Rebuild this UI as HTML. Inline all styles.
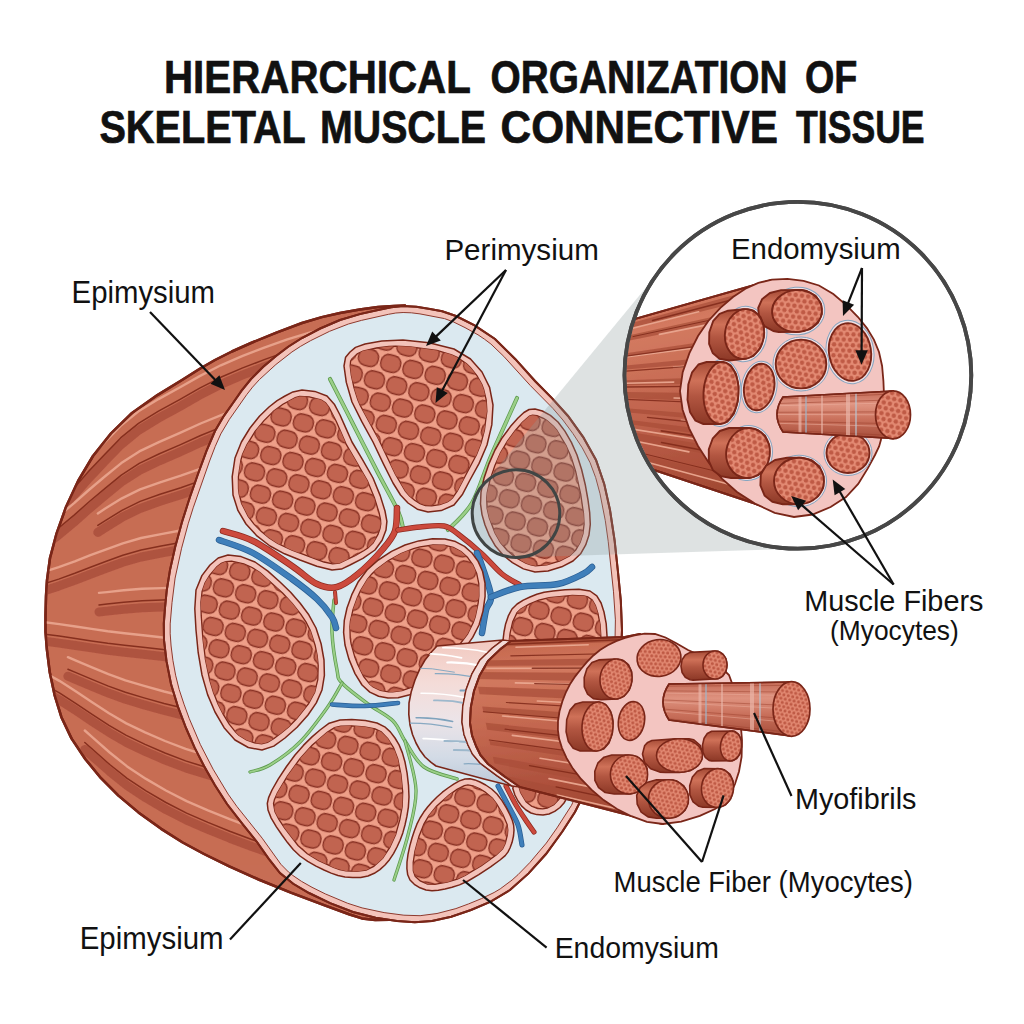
<!DOCTYPE html>
<html><head><meta charset="utf-8"><style>
html,body{margin:0;padding:0;background:#fff}
svg{display:block}
text{font-family:"Liberation Sans",sans-serif;fill:#111}
</style></head><body>
<svg width="1024" height="1024" viewBox="0 0 1024 1024">
<defs>
<path id="pcb" d="M405 305.5L393.9 305.9L378 307L359.7 309.5L340 313L321.8 317.1L302 323L276.4 332.6L251 343L231.9 351.5L215 360L199.4 369L182 380L157.4 395.1L132 413L111.1 433.4L93 456L78.1 481L66 507L56.6 533.3L50 558L47 580.2L46 596L45.5 615L45.5 631.8L46.9 649.7L49.8 672.6L54.6 695.1L61.4 717.2L71.6 738.6L85.4 759.2L101 778.2L118.4 795.6L138.4 812.4L160.8 828.6L182.7 842.5L204 854L229.3 866.4L258.6 879.5L290.8 892.7L326 905.9L349.7 914.5L361.9 918.4L375.2 920.1L389.7 919.7L401.6 917.9L414 914Z"/>
<path id="ppk" d="M403 306L416.4 306.8L430 309L442.2 311.2L456 316L474.6 325.3L495 339L515.4 359.2L535 381L552.2 398.4L568 416L583.2 437.1L596 460L604.2 483.9L610 510L614.6 540.5L618 572L620.8 600.5L622 630L620.6 664.9L617 700L611.1 731.9L603 760L591.5 783L581 800L575 812L562.4 831.5L546 854L528.6 873.4L510 890L490.7 901.6L471 910L451.2 916.8L432 921L414.8 922.2L397 921L375.6 917.7L353 912L330.1 903.2L309 893L293.2 883.8L280 873L268.6 858.6L257 842L242 823.4L227 804L214.8 785L204 766L194.5 747.4L186 728L177.8 706.4L171 684L166.5 661.2L164 640L163.8 623.6L165 608L166.8 590L170 570L175.3 546.6L182 522L189.7 497.7L198 474L206.4 451.2L215 431L223.9 415.8L233 403L241.6 390.7L251 379L263 367.1L276 356L288.2 346.7L302 338L320.2 328.5L340 320L359.8 314.1L378 310L391.2 307.2Z"/>
<path id="pcs" d="M403.1 312.5L395.8 313L388.5 314.3L361.4 320.4L348.4 324L329.6 331.3L310.7 340.6L300.3 346.5L291.9 352L275.9 364.5L259.4 379.6L252.6 387.1L246.8 394.5L229.3 419.5L220.8 433.9L215.2 446.5L209.6 461L193.2 507.8L188.2 523.8L181.6 548.2L175.1 578.1L172 602.7L170.2 623.9L170.2 633.8L171.1 646L172.9 660.3L175.6 675.2L179.2 689.6L184 704.2L189.3 718.7L200.4 744.6L213.1 769.2L228.1 794.1L236.9 806.5L262.2 838.2L280.9 864.3L288.6 872.1L292.6 875.3L301.4 881.3L312 887.3L325.3 893.9L347.7 903.3L362.1 907.9L384.1 912.6L403.9 915.2L420.1 915.7L437 913.5L455.9 908.6L468.6 903.9L481.5 898.6L494.1 892.5L500.2 888.9L512.1 880L518 874.7L529.8 862.6L546.3 843.1L557 827.9L571.5 805.3L575.4 796.7L590 772.7L593.7 765.4L596.9 757.7L602.3 740.2L604.7 730.4L608.9 709.7L612 688L614.8 652.5L615.4 619.9L613.5 591.8L608.2 541.3L605.3 520.7L600 493.7L595.7 477.7L590.1 462.7L582.3 447.9L572.9 433.5L562.9 420L552.9 408.4L530.2 385.4L503.8 356.4L490.9 344L484.5 339.2L478 334.8L465 327.6L453.4 321.9L444.5 318.6L420 313.9L411.3 312.8Z"/>
<path id="psl" d="M437 646L431.6 651.8L425 660L419.6 669.4L415 680L411.3 691.4L409 703L408.8 714.3L410 725L412.5 734.5L416 743L420.2 750.6L425 757L431.1 762.4L436 766L484 779L512 786L496.8 775.6L480 763L472.4 754L468 745L464 734.4L462 722L462.8 706.4L466 690L471.8 674.2L480 660L492.4 648.1L503 640Z"/>
<path id="pcy" d="M511 641L500.4 649.1L488 661L479.8 675.2L474 691L470.8 707.4L470 723L472 735.4L476 746L480.4 755L488 764L504.8 776.6L520 787L640 818L663 824L700 730L640 634L625 637Z"/>
<path id="paf" d="M625 638L634.5 635.3L644.6 633.6L655 634L665.5 637.5L676.3 643.3L688 650L702.1 656.2L717.1 663.4L729 675L736.1 694.5L740.2 718.4L742 740L741.6 756.9L739 771.5L735 784L730.5 794.1L724.5 802.1L715 809L699.8 815.9L681.1 821.6L663 824L646.9 821.8L631.4 816.2L617 809L603.6 800.1L591.4 789.6L581 779L572.9 768.6L566.6 758.1L562 748L559.1 738.8L557.9 730L558 721L559.5 711.3L562.4 701.3L566 692L570.3 683.7L575.4 676.1L581 669L586.8 662.1L593.1 655.7L600 650L607.7 645.2L616.1 641.1Z"/>
<path id="pam" d="M791.5 682L669 684Q657 702 669 720L791.5 736Z"/>
<path id="pzc" d="M772 280L610 326L610 460L651 469L768 508L795 512L810 400Z"/>
<path id="pzf" d="M772 279.6L787.4 278.9L803.6 280.8L819 285.5L833.3 294L846.6 305.3L858 317L866.9 328.1L873.9 339.6L879 352L882.1 366L883.4 380.8L884 395L884 408.3L883.3 420.9L882 432L880.9 440L879.1 446.4L875 455L867.8 468.4L858.2 483.9L846 497L830.6 507L812.6 514.5L794 517L774.7 512.8L754.9 503.6L737 492L721.9 478.6L708.8 462.8L698 446L689.1 428.3L682.6 409.7L680 391L682.7 372.1L689.4 353.1L698 336L708.3 321L720.4 307.8L733 297L745.4 288.7L758.3 282.9Z"/>
<path id="pzm" d="M893 391L783 397Q771 414.5 783 432L893 438.5Z"/>
<clipPath id="cb"><use href="#pcb"/></clipPath>
<clipPath id="ccs"><use href="#pcs"/></clipPath>
<clipPath id="csl"><use href="#psl"/></clipPath>
<clipPath id="ccy"><use href="#pcy"/></clipPath>
<clipPath id="acf"><use href="#paf"/></clipPath>
<clipPath id="acm"><use href="#pam"/></clipPath>
<clipPath id="cz"><circle cx="797.9" cy="375.3" r="171.8"/></clipPath>
<clipPath id="czc"><use href="#pzc"/></clipPath>
<clipPath id="zcf"><use href="#pzf"/></clipPath>
<clipPath id="zcm"><use href="#pzm"/></clipPath>
<linearGradient id="gsl" x1="0" y1="0" x2="0" y2="1"><stop offset="0" stop-color="#f2c9c0"/><stop offset=".3" stop-color="#f4dcd8"/><stop offset=".55" stop-color="#ece4e8"/><stop offset=".8" stop-color="#d3dbe6"/><stop offset="1" stop-color="#bcc9d8"/></linearGradient>
<linearGradient id="gcy" x1="0" y1="0" x2="0.12" y2="1"><stop offset="0" stop-color="#c2644c"/><stop offset=".25" stop-color="#d27a60"/><stop offset=".5" stop-color="#c56a52"/><stop offset=".8" stop-color="#b05440"/><stop offset="1" stop-color="#9c4531"/></linearGradient>
<linearGradient id="gzc" x1="0" y1="0" x2="0.2" y2="1"><stop offset="0" stop-color="#c4664e"/><stop offset=".25" stop-color="#d47c62"/><stop offset=".5" stop-color="#c76c55"/><stop offset=".8" stop-color="#b25641"/><stop offset="1" stop-color="#a04833"/></linearGradient>
<linearGradient id="ags" x1="0" y1="0" x2="0" y2="1"><stop offset="0" stop-color="#a44a35"/><stop offset=".3" stop-color="#cf7158"/><stop offset=".55" stop-color="#b25641"/><stop offset="1" stop-color="#8c3826"/></linearGradient>
<linearGradient id="agm" x1="0" y1="0" x2="0" y2="1"><stop offset="0" stop-color="#c46a56"/><stop offset=".3" stop-color="#de927f"/><stop offset=".6" stop-color="#c9705b"/><stop offset="1" stop-color="#a64e3b"/></linearGradient>
<pattern id="apd" width="4.5" height="7.8" patternUnits="userSpaceOnUse" patternTransform="rotate(12)"><rect width="4.5" height="7.8" fill="#e38a73"/><circle cx="2.2" cy="1.9" r="1.6" fill="#bf5a45"/><circle cx="0" cy="5.8" r="1.6" fill="#bf5a45"/><circle cx="4.5" cy="5.8" r="1.6" fill="#bf5a45"/></pattern>
<pattern id="zpd" width="6.3" height="10.9" patternUnits="userSpaceOnUse" patternTransform="rotate(12)"><rect width="6.3" height="10.9" fill="#e38a73"/><circle cx="3.1" cy="2.7" r="2.2" fill="#bf5a45"/><circle cx="0" cy="8.2" r="2.2" fill="#bf5a45"/><circle cx="6.3" cy="8.2" r="2.2" fill="#bf5a45"/></pattern>
<pattern id="cel" width="23" height="40" patternUnits="userSpaceOnUse" patternTransform="rotate(15)"><g fill="#c16450" stroke="#872f22" stroke-width="1.3"><rect x="1.5" y="1.5" width="20" height="17" rx="7.5"/><rect x="-10" y="21.5" width="20" height="17" rx="7.5"/><rect x="13" y="21.5" width="20" height="17" rx="7.5"/></g></pattern>
<g id="bl" fill="none" stroke-linecap="round" stroke-linejoin="round">
<path d="M405.4 330.2L381.3 331.9L357.4 335L333.6 338.9L310.3 344.3L287.4 351.4L264.9 359.4L242.7 367.9L220.8 377.3L199.7 388.1L179.2 399.8L158.5 411.1L138.5 423.3L120.6 437.9L104.6 454.4L88.9 471.1L73.8 488.2L57.9 504.7L41 520.3L32.3 528"/>
<path d="M358.2 394L334.6 396.9L311.2 400.8L288.4 406.4L265.9 412.7L243.7 419.4L221.8 426.9L200.6 435.5L180 444.9L159.4 453.8L139.3 463.4L121.3 475.1L105.1 488.3L89.4 501.5L74.1 515.1L58.2 528.3L49.7 534.5"/>
<path d="M407.1 445.4L383 447.5L359 449.9L335.4 451.7L312.2 454.4L289.4 458.5L266.9 463.2L244.6 468.2L222.7 473.8L201.5 480.4L180.8 487.7L160.1 494.3L140.1 501.4L121.9 510.3L105.7 520.3L97.8 525.4"/>
<path d="M313.3 522.9L290.6 525L268.1 527.7L245.8 530.6L223.9 533.8L202.5 537.8L181.7 542.3L161.1 546.1L141.1 550L122.8 555.3L106.3 561.3L90.4 567.2L74.8 573.3L58.7 579.1L41.4 584.6L23.8 590L15 592.8"/>
<path d="M409.2 591.8L385.2 594.3L361.1 595.9L337.7 595L314.6 594.3L291.8 594.5L269.3 595L247 595.6L225.1 596.4L203.7 597.8L182.8 599.3L162.1 600.1L142.1 600.7L123.7 602.3L107 604.1L99 604.9"/>
<path d="M315.7 659.8L293 658.2L270.5 656.7L248.2 655.2L226.2 653.8L204.7 652.7L183.7 651.6L163 649.5L143.1 647.2L124.5 645.3L107.7 643.3L91.5 640.9L75.6 638.5L59.2 636.1L41.7 633.9L23.9 631.8L15 630.7"/>
<path d="M411.3 735.1L387.3 738L363.2 738.8L339.9 735.2L317 731.2L294.2 727.6L271.7 724.1L249.4 720.3L227.4 716.4L205.9 712.6L184.7 708.6L164.1 703.5L144.1 697.9L125.4 692.3L108.4 686.1L92 679.4L76 672.6L67.9 669.2"/>
<path d="M341 802.2L318.1 796.7L295.4 791.3L272.9 785.8L250.6 779.9L228.6 773.8L206.9 767.5L185.6 760.9L165 753L145.1 744.4L126.3 735.4L109 725.3L92.5 714.6L76.4 703.8L59.8 693.1L42.1 683.2L24 673.5L15 668.6"/>
<path d="M413.3 872.2L389.3 875.5L365.2 875.5L342 869.3L319.2 862.1L296.5 854.9L274 847.5L251.7 839.5L229.7 831.2L207.9 822.4L186.6 813.1L165.9 802.5L146 790.9L127.1 778.4L109.7 764.5L93.1 749.8L84.8 742.5"/>
</g>
<g id="fou">
<path d="M344 366L345.6 357.2L350 352L355.5 347.4L365 344L381.8 340.9L403 340L429.1 342.8L454 349L470.5 359L482 372L489.6 387.4L493 405L491.8 424.9L487 445L479.1 463.4L470 480L462.6 494.2L454 505L441.2 510.6L428 512L417.3 509.2L408 503L400.5 495L393 483L383.4 463.8L373 442L361.8 421.7L352 402L346.3 382.4Z"/>
<path d="M269 407L277.1 400.6L285 396L292.9 391.9L302 390L314.8 391.4L327 396L334.3 404.2L340 415L345.5 427.4L352 442L362.5 459.6L373 478L380.2 495.6L385 511L386.9 521.3L386 530L382.1 540.2L375 550L362.9 558.4L350 565L341.4 569.1L332 570L316.8 566.2L300 560L284.5 553.8L270 546L256.9 535.9L246 524L237.9 510.4L233 495L232.2 476.6L235 458L241.4 442L250 428L259.4 416.3Z"/>
<path d="M196 590L201.9 575.6L210 565L218.2 558L228 555L241.1 556.6L255 562L267.9 571.1L280 582L290.6 592.2L300 603L308.8 614.8L316 628L321.1 643.7L324 660L324.4 675.4L322 690L316.3 702.9L308 715L297.1 727.3L285 738L273.8 746.1L262 750L248.3 747.5L235 740L224.1 727.7L215 712L207.6 694.6L202 675L198.2 652.7L196 630L194.8 608.8Z"/>
<path d="M347 608L351.7 594.9L358.3 581.7L367 570L378.3 560L391.5 551.4L405 545L418.7 540.9L432.6 538.8L445 539L455.5 541.6L464.5 546.4L472 553L478.1 561.4L482.6 571.5L485 583L485.1 596.4L483 611.1L479 625L472.7 637.4L464.5 649L455 660L444 671.2L431.9 681.8L420 690L408.9 695.1L398.1 697.7L388 698L378.6 696.2L369.8 692.1L362 685L355 673.6L348.9 659.1L345 645L343.6 632.5L344.3 620.3Z"/>
<path d="M518 418L523.9 412.5L529.1 409.5L535 409L542.4 411L550.4 415.4L558 422L564.9 431.1L571.4 442.4L577 455L581.6 469.5L585.4 485.3L588 500L589.7 512.7L590.3 524.4L589 535L585.7 544.9L580.6 553.8L573 561L561.7 566.8L548 571L535 572L523.4 568.9L512.4 562.7L503 555L495.4 546.1L489.4 535.7L485 525L482 514.6L480.5 503.8L481 492L484 478.3L489 463.6L495 450L502.2 437.7L510.4 426.6Z"/>
<path d="M504 632L505.6 623.9L508.3 615.9L512 609L517.1 604L523.3 600.1L530 597L536.8 594.3L544.1 592.3L553 591L565.1 589.8L578.9 589.2L590 591L596.8 595.8L601.1 603L604 612L606.2 623.7L607.1 637.3L606 650L604 661.7L600 672.5L590 680L568.6 683.1L541.3 683L520 680L510.4 673.4L506.9 664.1L505 655L503.3 647.2L503.1 639.6Z"/>
<path d="M272 790L278.2 779.1L286.5 766.5L295 755L303.4 745.4L312 736.9L320 730L329.2 723.2L340 720L351.8 719.6L365.4 720.6L377 723L384.7 726.8L390.3 731.9L395 738L399.1 744.9L402.4 752.9L405 762L407.1 773.1L408.5 785.4L409 797L408.4 807.1L406.9 816.4L405 825L402.8 832.9L400.1 840.2L397 847L393.5 853.6L389.5 859.7L385 865L379.9 869.6L374.3 873.3L368 876L360.7 877.4L352.7 877.6L345 877L338 875.5L331.1 873.1L324 870L316 866.1L307.7 861.4L300 856L293.4 849.7L287.5 842.6L282 835L276.4 826.8L271.2 818.1L268 810L267.3 803.5L268.6 797.6Z"/>
<path d="M432 802L437 797L442.4 792.2L448 788L453.7 784.2L459.4 780.9L465 779L470.1 778.8L474.9 779.9L480 782L485.7 785L491.6 789L497 794L502 800.6L506.5 808.1L510 815L512.3 820.3L513.6 825L514 830L513.5 836L512.1 842.3L510 848L507.9 852.1L505.2 855.6L500 860L490.6 866.8L478.8 874.6L468 881L459.5 884.9L452 887.3L445 889L438.3 890.3L432 890.7L426 890L420 887.8L414.3 884.3L410 880L407.7 874.8L406.9 868.7L407 862L408 854.3L409.8 845.9L412 838L414.3 830.9L416.9 824.2L420 818L423.6 812.3L427.6 807Z"/>
<path d="M514 783L520.4 778.9L530.1 775.8L540 775L550 777.4L560.2 782L567 787L568.7 792.2L567 797.9L564 803L560 807.5L554.7 811.4L549 814L543 815L536.7 814.6L531 813L526 810L521.5 805.9L518 801L514.9 795.1L512.8 788.5Z"/>
</g>
<g id="fin">
<path d="M350.2 365.8L351.3 375.2L353.9 387.3L357.8 399.8L360.4 405.8L378.6 439.3L395.5 474.5L405.5 491.3L409.6 496.1L414.6 500.3L420 503.6L425.4 505.5L431.8 505.8L439.8 504.6L447.3 501.9L450.2 500.1L452.6 497.8L457.2 491.2L476.5 454.8L481.1 443.1L484.4 430.5L486.9 411.2L486.2 399.9L483.7 389.4L481.9 384.5L476.9 375.5L470.3 367.4L466.5 363.7L457.2 357.4L451.7 354.8L436.9 350.5L410.5 346.8L395.7 346.1L389 346.4L376.5 348L362.9 351L357.3 353.7L351.7 359.2L350.6 361.3Z"/>
<path d="M273.1 411.6L264 420.6L255.1 431.5L246.9 444.9L242.5 454.6L241 459.6L238.4 476.9L238.5 488.7L239.1 494L241.6 503.4L248.2 516.3L254 524.1L261.1 531.3L269.2 537.9L277.7 543.5L292 550.2L324 562L332.6 563.8L339.4 563.2L355.5 555.4L364.1 550.5L367.8 548L373 543L378 534.4L380 528.5L380.8 523.8L380.5 519.3L379 512.5L374.4 497.6L367.4 480.7L346.4 444.7L336.3 421.5L329 407.4L325.5 402.8L320.9 399.8L309.3 396.8L299.6 396.4L295.3 397.7L282.9 404.2Z"/>
<path d="M202.1 591.3L200.9 602.2L201.2 615.4L202.7 636.8L205.4 659.5L209.7 680.1L213.5 692.5L218 703.9L223.3 714.4L229.2 724.2L235.6 732.1L238.9 735.2L246.4 739.9L254.5 742.9L261.7 743.8L267.5 742.3L274 738.5L281.2 733.1L288.8 726.7L296.4 719L308.6 703.6L314.7 692.2L317.8 679.7L318.2 665.5L317.2 655.6L315.1 645.2L310.3 630.4L306.1 622.2L300.9 614.4L292.2 603.3L282.8 593.2L259.9 572.6L252.1 567.5L243.8 563.9L231.6 561.2L225.8 561.6L221.3 563.4L216.9 566.8L209.6 575.3L205.1 582.7Z"/>
<path d="M353 609.7L350.4 621.2L349.9 626.7L350.2 638L351.1 643.8L354.8 657.1L357.5 664.1L363.7 676.6L369.9 684.4L373.2 686.9L380.4 690.3L388.5 691.8L392.8 691.9L402 690.7L411.9 687.2L416.9 684.6L422.3 681.2L433.9 672L445.3 661.2L455.1 650.5L467.5 634.1L473.2 622.7L475.3 616.5L478.2 602.8L478.9 595.9L478.8 583.6L476.7 573.4L472.7 564.5L467.4 557.2L461 551.5L453.2 547.4L444.2 545.2L433 545L420 546.9L413.5 548.6L401 553.5L388.1 560.7L376.4 569.5L371.6 574.2L367.4 579.3L360.3 591L357.4 597.4Z"/>
<path d="M522.5 422.3L515.3 430.5L507.4 441.2L500.5 452.8L494.8 465.8L490 480L487.2 492.8L486.7 498.3L487.1 508.4L489.3 518L495 533L500.5 542.5L507.3 550.5L515.9 557.6L525.8 563.2L530.8 564.9L535.5 565.8L546.8 564.9L559.4 561.1L569.5 555.9L575.7 550L580.1 542.4L583 533.6L584.1 524.2L583.5 513.4L580.7 494L575.6 471.1L571.2 457.2L565.9 445.2L556.6 430L553.4 426.2L546.9 420.5L543.4 418.3L537 415.7L532.5 415.2L529.5 416.1Z"/>
<path d="M510.1 633L509.3 639.9L509.5 646.5L514 666.8L515.5 669.8L517.8 672.1L521.9 674.1L530 675.7L541.7 676.8L555 677.2L568.3 677L579.9 675.9L587.8 674.1L592.2 671.8L594.8 669L596.7 665.2L600.7 643.4L600.9 637.3L600.1 624.5L598 613.6L595.4 605.4L592.2 600L587.7 596.8L584 595.9L572.3 595.5L549.2 597.7L538.8 600.2L529.2 604.1L520.8 608.9L517 612.7L512.7 621.7Z"/>
<path d="M277.5 792.8L274.4 799.7L273.5 803.8L275 811.7L278.9 819.3L284.3 827.5L298 845.5L307.3 853.8L318.8 860.6L333.5 867.4L339.7 869.5L345.9 870.9L356.5 871.4L366.2 870.1L373.7 866.4L382.6 858.4L389.8 847.4L395.7 834.5L399.9 819.4L402.2 806.4L402.7 791.7L400.9 774L397.8 759L393.6 747.7L387.8 738.6L381.2 731.9L375.1 728.9L364.6 726.8L351.6 725.8L340.8 726.2L334.5 727.6L327.2 732.2L312.1 745.3L299.8 758.9L287.4 776.2Z"/>
<path d="M436.5 806.2L428.7 815.8L424 823.8L419 836.3L414.9 851.5L413.2 862.4L413.3 871L415.2 876.5L420.2 880.9L427.5 884L434.6 884.4L447.1 882.2L457.3 879.1L465.1 875.5L481.4 865.6L496.2 855.1L502.6 848.9L505.3 843.2L507.4 835L507.8 830L507.1 824.3L502.9 814.6L496.8 804L492.4 798.2L485.1 792L479.9 788.9L473 785.8L467.9 784.9L464.3 785.6L457 789.4L449 795Z"/>
<path d="M519 786.9L520.6 792.5L526.1 801.8L531.6 806.3L537.7 808.5L542.8 808.8L547.2 808.1L553.8 804.6L558.9 799.4L561.4 795.3L562.4 792L560.5 789.5L552.7 785.2L543.4 781.8L539.5 781.2L535.8 781.3L526.9 783L522.9 784.5Z"/>
</g>
<path id="v1" d="M330 379C333.7 386.2 344 406.3 352 422C360 437.7 370.3 458.2 378 473C385.7 487.8 393.8 501.8 398 511C402.2 520.2 402.2 525.2 403 528"/>
<path id="v2" d="M517 398C512.7 407.7 498.5 438.5 491 456C483.5 473.5 479.2 490.7 472 503C464.8 515.3 452 525.5 448 530"/>
<path id="v3" d="M334 600C333.7 605.3 331.5 620.3 332 632C332.5 643.7 335.3 661.5 337 670C338.7 678.5 336.8 677.3 342 683C347.2 688.7 359.5 697.7 368 704C376.5 710.3 386.8 714.8 393 721C399.2 727.2 399.8 733.3 405 741C410.2 748.7 415.3 760.7 424 767C432.7 773.3 451.5 777 457 779"/>
<path id="v4" d="M342 683C339.5 687.2 334 698.2 327 708C320 717.8 309.5 732.5 300 742C290.5 751.5 278.3 760 270 765C261.7 770 253.3 770.8 250 772"/>
<path id="v5" d="M405 741C406.8 749.2 415.5 774.3 416 790C416.5 805.7 411.7 820 408 835C404.3 850 396.3 872.5 394 880"/>
<path id="b1" d="M332 704.5C337.5 704.8 354 706.2 365 706C376 705.8 392.5 703.5 398 703"/>
<path id="b2" d="M219 540C224.7 542.2 240.8 546.5 253 553C265.2 559.5 281.3 571.3 292 579C302.7 586.7 310.3 592.7 317 599C323.7 605.3 328.8 612.2 332 617C335.2 621.8 335.3 626.2 336 628"/>
<path id="r0" d="M335 592C335.2 593.8 335.8 601.2 336 603"/>
<path id="r1" d="M223 531C228 532.7 241.5 535.2 253 541C264.5 546.8 281.3 558.8 292 566C302.7 573.2 309.5 580.5 317 584C324.5 587.5 330.2 588.7 337 587C343.8 585.3 350.3 580.3 358 574C365.7 567.7 376.8 556.2 383 549C389.2 541.8 392.7 537.8 395 531C397.3 524.2 396.7 511.8 397 508"/>
<path id="r2" d="M398 530C401.7 529.5 412.3 527.7 420 527C427.7 526.3 437.7 524.8 444 526C450.3 527.2 451.7 529.3 458 534C464.3 538.7 474.7 547.3 482 554C489.3 560.7 495.7 568.8 502 574C508.3 579.2 517 583.2 520 585"/>
<path id="b3" d="M477 553C477.8 555.2 479.7 558.8 482 566C484.3 573.2 490.3 588.7 491 596C491.7 603.3 487.5 603.8 486 610C484.5 616.2 482.7 629.2 482 633"/>
<path id="b4" d="M491 597C495.8 595.3 508.8 589.2 520 587C531.2 584.8 547.5 586.2 558 584C568.5 581.8 577.3 576.8 583 574C588.7 571.2 590.5 568.2 592 567"/>
<path id="b5" d="M498 786C499.7 789.2 504.7 798.5 508 805C511.3 811.5 515.7 818.3 518 825C520.3 831.7 521.3 841.7 522 845"/>
<path id="r3" d="M506 786C507.7 789.2 512.5 799 516 805C519.5 811 524 817.5 527 822C530 826.5 532.8 830.3 534 832"/>
</defs>
<rect width="1024" height="1024" fill="#fff"/>
<use href="#pcb" fill="#c76d55" stroke="#7a2618" stroke-width="2.5" stroke-linejoin="round"/>
<g clip-path="url(#cb)">
<use href="#bl" transform="translate(0,7)" stroke="#b05541" stroke-width="9"/>
<use href="#bl" transform="translate(0,-12)" stroke="#eaa791" stroke-width="2.4" opacity=".9"/>
<use href="#bl" stroke="#7f2919" stroke-width="1.5" opacity=".9"/>
</g>
<use href="#pcb" fill="none" stroke="#7a2618" stroke-width="2.5" stroke-linejoin="round"/>
<use href="#ppk" fill="#f3c3ba" stroke="#7a2618" stroke-width="2"/>
<use href="#pcs" fill="#dbe9f0" stroke="#8e3a2e" stroke-width="1"/>
<g clip-path="url(#ccs)">
<g id="vessels" fill="none" stroke-linecap="round" stroke-linejoin="round">
<use href="#v1" stroke="#5c9a4e" stroke-width="4.1"/><use href="#v1" stroke="#9bcf88" stroke-width="2.6"/>
<use href="#v2" stroke="#5c9a4e" stroke-width="4.1"/><use href="#v2" stroke="#9bcf88" stroke-width="2.6"/>
<use href="#v3" stroke="#5c9a4e" stroke-width="3.5"/><use href="#v3" stroke="#9bcf88" stroke-width="2"/>
<use href="#v4" stroke="#5c9a4e" stroke-width="3.3"/><use href="#v4" stroke="#9bcf88" stroke-width="1.8"/>
<use href="#v5" stroke="#5c9a4e" stroke-width="3.3"/><use href="#v5" stroke="#9bcf88" stroke-width="1.8"/>
<use href="#b1" stroke="#2c5f94" stroke-width="4.7"/><use href="#b1" stroke="#3f7fba" stroke-width="3.2"/>
<use href="#b2" stroke="#2c5f94" stroke-width="6.5"/><use href="#b2" stroke="#3f7fba" stroke-width="5"/>
<use href="#r0" stroke="#8e2a20" stroke-width="4"/><use href="#r0" stroke="#cc4a3d" stroke-width="2.5"/>
<use href="#r1" stroke="#8e2a20" stroke-width="6.5"/><use href="#r1" stroke="#cc4a3d" stroke-width="5"/>
<use href="#r2" stroke="#8e2a20" stroke-width="5.5"/><use href="#r2" stroke="#cc4a3d" stroke-width="4"/>
<use href="#b3" stroke="#2c5f94" stroke-width="6.5"/><use href="#b3" stroke="#3f7fba" stroke-width="5"/>
<use href="#b4" stroke="#2c5f94" stroke-width="6.5"/><use href="#b4" stroke="#3f7fba" stroke-width="5"/>
<use href="#b5" stroke="#2c5f94" stroke-width="5.1"/><use href="#b5" stroke="#3f7fba" stroke-width="3.6"/>
<use href="#r3" stroke="#8e2a20" stroke-width="5.1"/><use href="#r3" stroke="#cc4a3d" stroke-width="3.6"/>
</g>
<g id="fasc">
<use href="#fou" fill="#f3c3ba" stroke="#7a2618" stroke-width="1.5" stroke-linejoin="round"/>
<use href="#fin" fill="#ee9f88" stroke="#7a2618" stroke-width="1.3"/>
<use href="#fin" fill="url(#cel)"/>
</g>
</g>
<use href="#ppk" fill="none" stroke="#7a2618" stroke-width="2"/>
<path d="M797.9 201.9L780.9 202.7L764.1 205.2L747.6 209.4L727.6 216.8L712.4 224.4L698.1 233.5L681.5 246.8L669.4 258.9L479 490.2L475.5 496.8L473.3 504L472.2 512.5L472.7 520L474.4 527.3L477.4 534.2L481.5 540.5L486.6 546.1L492.6 550.6L500.2 554.5L507.5 556.6L516 557.4L802.2 548.6L819.1 547.4L831.7 545.4L848.2 541.2L860.3 537.1L875.9 530.2L890.7 521.8L901.2 514.6L914.3 503.8L926.4 491.7L942.1 471.6L952.8 453.3L962.5 429.7L968.7 404.9L971.2 379.6L970 354.1L965 329.1L956.4 305L946.6 286.2L931.9 265.3L914.3 246.8L894.2 231.1L872 218.5L848.2 209.4L823.3 203.8Z" fill="#8e9a9c" opacity=".29"/>
<circle cx="516" cy="513.6" r="43.8" fill="none" stroke="#404544" stroke-width="3"/>
<use href="#psl" fill="url(#gsl)" stroke="#7a2618" stroke-width="1.6" stroke-linejoin="round"/>
<g clip-path="url(#csl)" fill="none" stroke-linecap="round"><path d="M442.7 647.8Q465.5 647.7 488.3 652.4" stroke="#ffffff" stroke-width="1.5"/><path d="M419.8 653.7Q440.6 653.5 461.5 657.9" stroke="#ffffff" stroke-width="1.8"/><path d="M447.3 662.5Q464.9 662 482.4 666" stroke="#ffffff" stroke-width="2.2"/><path d="M410.2 667.8Q432.3 667.6 454.4 672.2" stroke="#88a9c2" stroke-width="1"/><path d="M435.3 673.7Q456.8 673.4 478.3 678" stroke="#88a9c2" stroke-width="1.3"/><path d="M460.5 690.6Q474.7 690 488.9 693.4" stroke="#7fa3bd" stroke-width="2"/><path d="M421 693.3Q443.6 693.2 466.1 697.8" stroke="#ffffff" stroke-width="1.5"/><path d="M434 700.4Q451.1 700 468.1 703.8" stroke="#9db8cc" stroke-width="1.9"/><path d="M416.1 717.7Q434.4 717.3 452.7 721.4" stroke="#7fa3bd" stroke-width="1.5"/><path d="M408 723.1Q429.9 722.9 451.7 727.4" stroke="#88a9c2" stroke-width="1.4"/><path d="M423.1 738.6Q440.7 738.2 458.3 742.2" stroke="#ffffff" stroke-width="1.7"/><path d="M444.4 741.1Q465.7 740.9 487 745.4" stroke="#9db8cc" stroke-width="2"/><path d="M453.8 750Q476.9 749.8 499.9 754.6" stroke="#9db8cc" stroke-width="1.8"/><path d="M464.1 763.8Q480 763.2 495.8 767" stroke="#88a9c2" stroke-width="1.2"/></g>
<path d="M503 640L492.4 648.1L480 660L471.8 674.2L466 690L462.8 706.4L462 722L464 734.4L468 745L472.4 754L480 763L496.8 775.6L512 786L520 787L504.8 776.6L488 764L480.4 755L476 746L472 735.4L470 723L470.8 707.4L474 691L479.8 675.2L488 661L500.4 649.1L511 641Z" fill="#f2d9d6" stroke="#7a2618" stroke-width="1.3"/>
<use href="#pcy" fill="url(#gcy)" stroke="#7a2618" stroke-width="2" stroke-linejoin="round"/>
<g clip-path="url(#ccy)" fill="none" stroke-linecap="round">
<g fill="#a94f3a" stroke="none" opacity="0.7"><path d="M468.6 643L660.2 634L660.5 640.3L469.6 647.6Z"/><path d="M472.4 660.5L661.4 657.6L661.7 665.1L473.6 666Z"/><path d="M474.9 672.1L662.1 673.3L662.6 682.6L476.3 679Z"/><path d="M478 686.8L663.1 693L663.6 703.1L479.6 694.3Z"/><path d="M482.2 706.5L664.4 719.6L664.8 727.1L483.4 712.1Z"/><path d="M485.7 722.8L665.5 741.6L666 751L487.2 729.8Z"/><path d="M489.5 740.9L666.7 765.9L667 771.2L490.4 744.9Z"/><path d="M492.9 756.7L667.8 787.2L668.2 796.4L494.4 763.6Z"/><path d="M496.6 774L668.9 810.5L669.4 820.2L498.1 781.2Z"/></g>
<g stroke="#eaa891" stroke-width="1.6" opacity="0.95"><path d="M516 647.3L588.2 644.7"/><path d="M487 668.4L590.6 668.2"/><path d="M515.4 682.9L598.7 684.9"/><path d="M537.3 701L625.9 705.8"/><path d="M502.6 716L590 723.7"/><path d="M512.3 735.4L580 743.7"/><path d="M540 758.2L600.6 767.9"/><path d="M549 778.6L626.7 794.1"/><path d="M557.2 795L651.7 816.6"/></g>
<g stroke="#7f2919" opacity=".85"><path d="M475.9 645.7L620.9 639.7" stroke-width="1.5"/><path d="M510.8 655.8L661.1 652.5" stroke-width="1.2"/><path d="M532.3 668.2L642.4 668.1" stroke-width="1.5"/><path d="M534.7 683.6L618 685.7" stroke-width="1.3"/><path d="M506.3 702.5L638.8 710.5" stroke-width="1.1"/><path d="M483.3 711.8L596 721" stroke-width="1.1"/><path d="M505.1 729.2L628.7 743.1" stroke-width="1.2"/><path d="M489.3 740L623.9 758.7" stroke-width="1.2"/><path d="M529.5 765.6L631.8 783.9" stroke-width="1.3"/><path d="M556.1 786.9L651.1 807" stroke-width="1.4"/></g>
</g>
<use href="#pcy" fill="none" stroke="#7a2618" stroke-width="2" stroke-linejoin="round"/>
<use href="#paf" fill="#f3c5c1" stroke="#7a2618" stroke-width="1.8"/>
<g stroke="#7a2618" stroke-width="1.6" stroke-linejoin="round">
<ellipse cx="659" cy="658" rx="22" ry="18.4" transform="rotate(-8 659 658)" fill="url(#apd)"/>
<path d="M715 651L690 652.4L685.3 655L682.1 659.7L681 666.1L682.1 672.5L685.3 677.2L690 679.8L693 680.1L718 678.7L722.7 676.1L725.9 671.4L727 665L725.9 658.6L722.7 653.9L718 651.3Z" fill="url(#ags)"/>
<ellipse cx="715" cy="665" rx="12" ry="14" fill="url(#apd)"/>
<path d="M614.8 659.1L598.8 659.9L592 662.6L586.9 668.7L584.2 677.6L584.3 686.9L587.6 694.1L593.4 698.6L601.2 699.7L617.2 698.9L624 696.2L629.1 690.1L631.8 681.2L631.7 671.9L628.4 664.7L622.6 660.2Z" fill="url(#ags)"/>
<ellipse cx="616" cy="679" rx="16" ry="20" transform="rotate(6 616 679)" fill="url(#apd)"/>
<ellipse cx="631.5" cy="721" rx="13" ry="19.5" transform="rotate(10 631.5 721)" fill="url(#apd)"/>
<path d="M582.8 702L575.5 703.9L570 710.1L566.7 719.7L566.1 731.8L568.4 741.6L573.2 748.3L580.2 751L596.2 751L603.5 749.1L609 742.9L612.3 733.3L612.9 721.2L610.6 711.4L605.8 704.7L598.8 702Z" fill="url(#ags)"/>
<ellipse cx="597.5" cy="726.5" rx="15.5" ry="24.5" transform="rotate(4 597.5 726.5)" fill="url(#apd)"/>
<path d="M732.3 731.1L711.7 731.2L707.3 733.5L704.1 738.3L702.5 745.1L702.9 752L705.2 757.3L709.1 760.4L711.7 760.9L732.3 760.8L736.7 758.5L739.9 753.7L741.5 746.9L741.1 740L738.8 734.7L734.9 731.6Z" fill="url(#ags)"/>
<ellipse cx="731" cy="746" rx="10.5" ry="15" transform="rotate(6 731 746)" fill="url(#apd)"/>
</g>
<use href="#pam" fill="url(#agm)" stroke="#7a2618" stroke-width="1.6"/>
<g clip-path="url(#acm)" fill="none"><path d="M660 686.2L791.5 685.4" stroke="#9a3f2d" stroke-width="0.8" opacity=".6"/><path d="M660 690.8L791.5 692.1" stroke="#9a3f2d" stroke-width="0.8" opacity=".6"/><path d="M660 693L791.5 695.5" stroke="#eeb3a2" stroke-width="0.8" opacity=".6"/><path d="M660 699.8L791.5 705.6" stroke="#9a3f2d" stroke-width="0.8" opacity=".6"/><path d="M660 702L791.5 709" stroke="#eeb3a2" stroke-width="0.8" opacity=".6"/><path d="M660 708.8L791.5 719.1" stroke="#9a3f2d" stroke-width="0.8" opacity=".6"/><path d="M660 711L791.5 722.5" stroke="#eeb3a2" stroke-width="0.8" opacity=".6"/><path d="M660 717.8L791.5 732.6" stroke="#9a3f2d" stroke-width="0.8" opacity=".6"/><path d="M700 679L700 741" stroke="#e9b5a8" stroke-width="3" opacity="0.7"/><path d="M706 679L706 741" stroke="#9fb6c9" stroke-width="2" opacity="0.6"/><path d="M722 679L722 741" stroke="#e9b5a8" stroke-width="2" opacity="0.6"/><path d="M752 679L752 741" stroke="#e9b5a8" stroke-width="4" opacity="0.7"/><path d="M760 679L760 741" stroke="#b9c4d0" stroke-width="2" opacity="0.6"/></g>
<use href="#pam" fill="none" stroke="#7a2618" stroke-width="1.6"/>
<ellipse cx="791.5" cy="709" rx="18.5" ry="27.3" fill="url(#apd)" stroke="#7a2618" stroke-width="1.7"/>
<g stroke="#7a2618" stroke-width="1.6" stroke-linejoin="round">
<path d="M675 738.9L651.9 740.5L647.7 742.4L644.7 745.5L642.5 754L644.6 762.5L650.7 768.7L659.8 772.1L665.5 772.5L679.5 772.5L690.1 770.8L697.8 765.9L702 758.6L702.5 754L700.4 745.5L693.8 739.8L689 738.9Z" fill="url(#ags)"/>
<ellipse cx="679.5" cy="755.5" rx="23" ry="16.8" fill="url(#apd)"/>
<path d="M611.8 755L604 757.2L598 762.8L594.8 771.3L594.9 780.4L598.6 787.7L605.2 792.5L614.2 794L630.2 794L638 791.8L644 786.2L647.2 777.7L647.1 768.6L643.4 761.3L636.8 756.5L627.8 755Z" fill="url(#ags)"/>
<ellipse cx="629" cy="774.5" rx="18.6" ry="19.5" fill="url(#apd)"/>
<path d="M656.5 779.8L646.9 782.4L640.1 787.7L636.7 795.3L637.2 804.2L641.2 812.1L648 816.9L656.5 818.2L668.5 818.2L678.1 815.6L684.9 810.3L688.3 802.7L687.8 793.8L683.8 785.9L677 781.1L672.9 780Z" fill="url(#ags)"/>
<ellipse cx="668.5" cy="799" rx="20" ry="19.2" fill="url(#apd)"/>
<path d="M704.2 768.6L697.4 771.2L692.4 777.1L689.7 785.8L689.9 794.9L693.1 801.9L698.9 806.3L702.8 807.3L718.8 807.4L725.6 804.8L730.6 798.9L733.3 790.2L733.1 781.1L729.9 774.1L724.1 769.7L720.2 768.7Z" fill="url(#ags)"/>
<ellipse cx="717.5" cy="788" rx="16" ry="19.4" transform="rotate(6 717.5 788)" fill="url(#apd)"/>
</g>
<circle cx="797.9" cy="375.3" r="173.4" fill="#fff" stroke="#474747" stroke-width="3.8"/>
<g clip-path="url(#cz)">
<use href="#pzc" fill="url(#gzc)" stroke="#7a2618" stroke-width="2" stroke-linejoin="round"/>
<g clip-path="url(#czc)" fill="none" stroke-linecap="round">
<g fill="#a94f3a" stroke="none" opacity="0.7"><path d="M600 331.5L790.2 279.8L790.6 289.5L600 336.6Z"/><path d="M600 341.9L791 299.4L791.4 308.1L600 346.5Z"/><path d="M600 357.2L792.2 328.5L792.5 335.1L600 360.7Z"/><path d="M600 368.1L793.1 349.2L793.4 355.8L600 371.6Z"/><path d="M600 381.3L794.1 374.1L794.5 382.5L600 385.7Z"/><path d="M600 391.7L795 394L795.4 404.7L600 397.4Z"/><path d="M600 406.3L796.1 421.7L796.4 428.4L600 409.9Z"/><path d="M600 416.2L796.9 440.5L797.2 447.7L600 420.1Z"/><path d="M600 426.9L797.8 460.7L798.3 472.5L600 433.1Z"/><path d="M600 444.1L799.1 493.3L799.6 503.4L600 449.4Z"/></g>
<g stroke="#eaa891" stroke-width="1.6" opacity="0.95"><path d="M613.1 333L698.6 311.8"/><path d="M659.4 334.4L718.8 322.4"/><path d="M606.6 359.6L692.9 348.1"/><path d="M673.4 367.4L766.8 360.3"/><path d="M613.4 383.5L673.7 382.1"/><path d="M674.1 398L768.3 400.9"/><path d="M681.3 420.2L783 430.8"/><path d="M600 424L709 441.3"/><path d="M620.5 438.1L688.9 451.9"/><path d="M648.2 462.5L744.5 488.6"/></g>
<g stroke="#7f2919" opacity=".85"><path d="M652.5 320.4L737.9 298.2" stroke-width="1.5"/><path d="M633 336.6L738.4 314.1" stroke-width="1"/><path d="M606.6 358.7L732.7 341.4" stroke-width="1.2"/><path d="M613.3 372.1L746.8 362.1" stroke-width="1.2"/><path d="M606.7 387.2L740.9 385.9" stroke-width="1.4"/><path d="M606.7 398.6L782 406" stroke-width="1.1"/><path d="M647.5 417.4L728.8 426" stroke-width="1.4"/><path d="M661.3 430.9L770.1 447" stroke-width="1.6"/><path d="M661.5 442.5L750.3 459.2" stroke-width="1.5"/><path d="M641.2 453.1L730.4 474.8" stroke-width="1"/></g>
</g>
<use href="#pzc" fill="none" stroke="#7a2618" stroke-width="2" stroke-linejoin="round"/>
<use href="#pzf" fill="#f3c5c1" stroke="#7a2618" stroke-width="1.8"/>
<g fill="#f1dfe2" stroke="#86a5c0" stroke-width="1"><ellipse cx="797" cy="311" rx="27.8" ry="23.8" transform="rotate(-5 797 311)"/><ellipse cx="744.5" cy="334" rx="22.3" ry="27.8" transform="rotate(8 744.5 334)"/><ellipse cx="850" cy="352" rx="23.8" ry="31.8" transform="rotate(-9 850 352)"/><ellipse cx="801" cy="364" rx="28" ry="27"/><ellipse cx="759.2" cy="387" rx="17.6" ry="26" transform="rotate(10 759.2 387)"/><ellipse cx="721" cy="393" rx="20" ry="33.6" transform="rotate(3 721 393)"/><ellipse cx="848" cy="453" rx="24" ry="22.5"/><ellipse cx="748" cy="453" rx="24.4" ry="27.6" transform="rotate(8 748 453)"/><ellipse cx="799" cy="481" rx="27.6" ry="25.8"/></g>
<g stroke="#7a2618" stroke-width="1.9" stroke-linejoin="round">
<path d="M801.4 290L781.2 290.1L769.9 293L762 299.3L758.2 308L759.1 318.3L764.4 326.2L773.2 331L778.6 332L798.8 331.9L810.1 329L818 322.7L821.8 314L820.9 303.7L815.6 295.8L806.8 291Z" fill="url(#ags)"/>
<ellipse cx="797" cy="311" rx="25" ry="21" transform="rotate(-5 797 311)" fill="url(#zpd)"/>
<path d="M744 309.1L728 310.7L719.6 313.8L713.1 321.2L709.3 332.2L709.1 343.8L712.7 353L719.5 358.8L729 360.5L745 358.9L753.4 355.8L759.9 348.4L763.7 337.4L763.9 325.8L760.3 316.6L753.5 310.8Z" fill="url(#ags)"/>
<ellipse cx="744.5" cy="334" rx="19.5" ry="25" transform="rotate(8 744.5 334)" fill="url(#zpd)"/>
<ellipse cx="850" cy="352" rx="21" ry="29" transform="rotate(-9 850 352)" fill="url(#zpd)"/>
<ellipse cx="801" cy="364" rx="25.3" ry="24.4" fill="url(#zpd)"/>
<ellipse cx="759.2" cy="387" rx="15" ry="23.5" transform="rotate(10 759.2 387)" fill="url(#zpd)"/>
<path d="M706.6 362L698.4 364.5L692.1 372.3L688.3 384.5L687.5 399.8L690.1 412.2L695.5 420.7L703.4 424L719.4 424L727.6 421.5L733.9 413.7L737.7 401.5L738.5 386.2L735.9 373.8L730.5 365.3L722.6 362Z" fill="url(#ags)"/>
<ellipse cx="721" cy="393" rx="17.5" ry="31" transform="rotate(3 721 393)" fill="url(#zpd)"/>
<ellipse cx="848" cy="453" rx="21.5" ry="20" fill="url(#zpd)"/>
</g>
<use href="#pzm" fill="url(#agm)" stroke="#7a2618" stroke-width="1.6"/>
<g clip-path="url(#zcm)" fill="none"><path d="M774 399.2L893 394" stroke="#9a3f2d" stroke-width="0.9" opacity=".6"/><path d="M774 403.6L893 399.9" stroke="#9a3f2d" stroke-width="0.9" opacity=".6"/><path d="M774 405.8L893 402.9" stroke="#eeb3a2" stroke-width="0.9" opacity=".6"/><path d="M774 412.3L893 411.8" stroke="#9a3f2d" stroke-width="0.9" opacity=".6"/><path d="M774 414.5L893 414.8" stroke="#eeb3a2" stroke-width="0.9" opacity=".6"/><path d="M774 421.1L893 423.7" stroke="#9a3f2d" stroke-width="0.9" opacity=".6"/><path d="M774 423.2L893 426.6" stroke="#eeb3a2" stroke-width="0.9" opacity=".6"/><path d="M774 429.8L893 435.5" stroke="#9a3f2d" stroke-width="0.9" opacity=".6"/><path d="M800 392L800 443.5" stroke="#e9b5a8" stroke-width="3" opacity="0.7"/><path d="M806 392L806 443.5" stroke="#9fb6c9" stroke-width="2" opacity="0.6"/><path d="M822 392L822 443.5" stroke="#e9b5a8" stroke-width="2" opacity="0.6"/><path d="M848 392L848 443.5" stroke="#e9b5a8" stroke-width="4" opacity="0.7"/><path d="M856 392L856 443.5" stroke="#b9c4d0" stroke-width="2" opacity="0.6"/></g>
<use href="#pzm" fill="none" stroke="#7a2618" stroke-width="1.6"/>
<ellipse cx="893" cy="414.8" rx="17.5" ry="24" fill="url(#zpd)" stroke="#7a2618" stroke-width="1.7"/>
<g stroke="#7a2618" stroke-width="1.9" stroke-linejoin="round">
<path d="M729 428L719.8 431L712.8 438.3L708.8 449.3L708.8 460.9L712.9 470.2L720.5 476.1L731 478L749 478L758.2 475L765.2 467.7L769.2 456.7L769.2 445.1L765.1 435.8L757.5 429.9L747 428Z" fill="url(#ags)"/>
<ellipse cx="748" cy="453" rx="21.8" ry="25" transform="rotate(8 748 453)" fill="url(#zpd)"/>
<path d="M787.2 457.8L775 460L766 465.8L760.8 474.5L760.4 485.3L764.5 495.4L772.3 501.8L782.8 504.2L796.8 504.2L809 502L818 496.2L823.2 487.5L823.6 476.7L819.5 466.6L811.7 460.2L801.2 457.8Z" fill="url(#ags)"/>
<ellipse cx="799" cy="481" rx="25" ry="23.2" fill="url(#zpd)"/>
</g>
</g>
<circle cx="797.9" cy="375.3" r="173.4" fill="none" stroke="#474747" stroke-width="3.8"/>
<text x="164" y="92.5" font-size="46" font-weight="700" stroke="#111" stroke-width=".7" textLength="306.8" lengthAdjust="spacingAndGlyphs">HIERARCHICAL</text>
<text x="490.6" y="92.5" font-size="46" font-weight="700" stroke="#111" stroke-width=".7" textLength="297" lengthAdjust="spacingAndGlyphs">ORGANIZATION</text>
<text x="805" y="92.5" font-size="46" font-weight="700" stroke="#111" stroke-width=".7" textLength="52.4" lengthAdjust="spacingAndGlyphs">OF</text>
<text x="99.4" y="143" font-size="46" font-weight="700" stroke="#111" stroke-width=".7" textLength="206.4" lengthAdjust="spacingAndGlyphs">SKELETAL</text>
<text x="320" y="143" font-size="46" font-weight="700" stroke="#111" stroke-width=".7" textLength="166" lengthAdjust="spacingAndGlyphs">MUSCLE</text>
<text x="500.6" y="143" font-size="46" font-weight="700" stroke="#111" stroke-width=".7" textLength="277.4" lengthAdjust="spacingAndGlyphs">CONNECTIVE</text>
<text x="796" y="143" font-size="46" font-weight="700" stroke="#111" stroke-width=".7" textLength="128.6" lengthAdjust="spacingAndGlyphs">TISSUE</text>
<text x="444.4" y="259.8" font-size="30.3" textLength="154.4" lengthAdjust="spacingAndGlyphs">Perimysium</text>
<text x="731" y="259.3" font-size="30" textLength="169.6" lengthAdjust="spacingAndGlyphs">Endomysium</text>
<text x="71.6" y="302.8" font-size="30.5" textLength="143.4" lengthAdjust="spacingAndGlyphs">Epimysium</text>
<text x="804.2" y="611" font-size="30" textLength="179.2" lengthAdjust="spacingAndGlyphs">Muscle Fibers</text>
<text x="830" y="639.7" font-size="27.2" textLength="128.8" lengthAdjust="spacingAndGlyphs">(Myocytes)</text>
<text x="795" y="808.5" font-size="29.5" textLength="121.4" lengthAdjust="spacingAndGlyphs">Myofibrils</text>
<text x="613.6" y="892" font-size="29.8" textLength="299.4" lengthAdjust="spacingAndGlyphs">Muscle Fiber (Myocytes)</text>
<text x="554.7" y="957.8" font-size="30" textLength="164.1" lengthAdjust="spacingAndGlyphs">Endomysium</text>
<text x="79.7" y="948.7" font-size="30.8" textLength="143.9" lengthAdjust="spacingAndGlyphs">Epimysium</text>
<path d="M506 270L435.1 337.4" stroke="#111" stroke-width="2.2"/>
<path d="M426 346L432.2 331.5L440.8 340.5Z" fill="#111"/>
<path d="M506 270L441.4 392" stroke="#111" stroke-width="2.2"/>
<path d="M435.5 403L436.8 387.3L447.8 393.1Z" fill="#111"/>
<path d="M150 312L216.3 381" stroke="#111" stroke-width="2.2"/>
<path d="M225 390L210.5 383.8L219.4 375.3Z" fill="#111"/>
<path d="M862 268L847.6 304.4" stroke="#111" stroke-width="2.2"/>
<path d="M843 316L842.6 300.2L854.1 304.8Z" fill="#111"/>
<path d="M862 268L861.6 352.3" stroke="#111" stroke-width="2.2"/>
<path d="M861.5 364.8L855.4 350.3L867.8 350.3Z" fill="#111"/>
<path d="M893.6 584.5L800.7 504.2" stroke="#111" stroke-width="2.2"/>
<path d="M791.2 496L806.2 500.8L798.1 510.2Z" fill="#111"/>
<path d="M893.6 584.5L839 490.3" stroke="#111" stroke-width="2.2"/>
<path d="M832.7 479.5L845.3 488.9L834.6 495.2Z" fill="#111"/>
<path d="M791.5 796L754 713" stroke="#111" stroke-width="2.2"/>
<path d="M702 862L626 776" stroke="#111" stroke-width="2.2"/>
<path d="M702 862L723.6 795.4" stroke="#111" stroke-width="2.2"/>
<path d="M230 939.6L300.8 862.9" stroke="#111" stroke-width="2.2"/>
<path d="M546.6 947.6L463 880" stroke="#111" stroke-width="2.2"/>
</svg></body></html>
